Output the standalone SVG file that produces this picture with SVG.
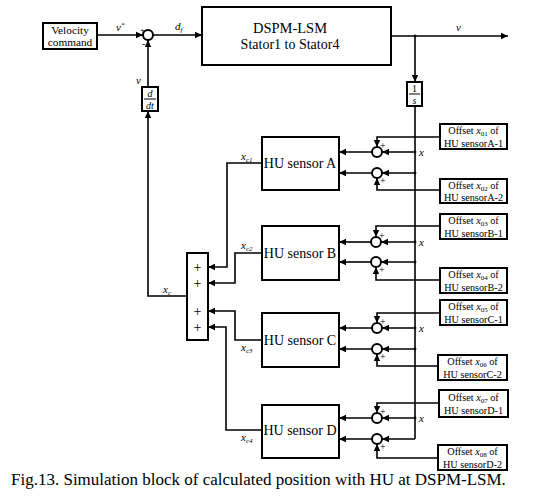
<svg xmlns="http://www.w3.org/2000/svg" width="548" height="499" viewBox="0 0 548 499">
<style>
.b{fill:#fff;stroke:#000;stroke-width:2}
.l{fill:none;stroke:#000;stroke-width:1.6}
.la{fill:none;stroke:#000;stroke-width:1.6;marker-end:url(#ah)}
.t{font-family:"Liberation Serif","Times New Roman",serif;fill:#000}
.i{font-style:italic}
.s{font-size:7px}
.ps{font-size:10px}
.o{font-size:10.2px}
</style>
<defs>
<marker id="ah" markerUnits="userSpaceOnUse" markerWidth="8" markerHeight="8" refX="7" refY="4" orient="auto">
<path d="M0,0.8 L7,4 L0,7.2 Z" fill="#000"/>
</marker>
</defs>
<rect width="548" height="499" fill="#fff"/>

<g id="connectors">
<line class="la" x1="97" y1="35" x2="143" y2="35"/>
<line class="la" x1="153" y1="35" x2="202" y2="35"/>
<line class="la" x1="391" y1="36" x2="508" y2="36"/>
<line class="la" x1="415" y1="36" x2="415" y2="82"/>
<line class="l" x1="415" y1="106" x2="415" y2="439"/>
<line class="la" x1="148" y1="87" x2="148" y2="40"/>
<polyline class="la" points="187,296 148,296 148,111"/>
<circle cx="415" cy="36" r="1.5"/>
<polyline class="la" points="262,163 227,163 227,267 208,267"/>
<polyline class="la" points="262,253 235,253 235,283 208,283"/>
<polyline class="la" points="262,340 235,340 235,311 208,311"/>
<polyline class="la" points="262,430 226,430 226,327 208,327"/>
<polyline class="la" points="440,137 377,137 377,147"/>
<line class="la" x1="415" y1="152" x2="382" y2="152"/>
<line class="la" x1="372" y1="152" x2="339" y2="152"/>
<line class="la" x1="415" y1="173" x2="382" y2="173"/>
<line class="la" x1="372" y1="173" x2="339" y2="173"/>
<polyline class="la" points="440,190 377,190 377,178"/>
<polyline class="la" points="440,226 376,226 376,237"/>
<line class="la" x1="415" y1="242" x2="381" y2="242"/>
<line class="la" x1="371" y1="242" x2="339" y2="242"/>
<line class="la" x1="415" y1="262" x2="381" y2="262"/>
<line class="la" x1="371" y1="262" x2="339" y2="262"/>
<polyline class="la" points="440,280 376,280 376,267"/>
<polyline class="la" points="440,313 377,313 377,323"/>
<line class="la" x1="415" y1="328" x2="382" y2="328"/>
<line class="la" x1="372" y1="328" x2="339" y2="328"/>
<line class="la" x1="415" y1="349" x2="382" y2="349"/>
<line class="la" x1="372" y1="349" x2="339" y2="349"/>
<polyline class="la" points="438,366 377,366 377,354"/>
<polyline class="la" points="439,403 377,403 377,413"/>
<line class="la" x1="415" y1="418" x2="382" y2="418"/>
<line class="la" x1="372" y1="418" x2="339" y2="418"/>
<line class="la" x1="415" y1="439" x2="382" y2="439"/>
<line class="la" x1="372" y1="439" x2="339" y2="439"/>
<polyline class="la" points="438,458 377,458 377,444"/>
<g fill="#000">
<circle cx="415" cy="152" r="1.4"/><circle cx="415" cy="173" r="1.4"/>
<circle cx="415" cy="242" r="1.4"/><circle cx="415" cy="262" r="1.4"/>
<circle cx="415" cy="328" r="1.4"/><circle cx="415" cy="349" r="1.4"/>
<circle cx="415" cy="418" r="1.4"/>
</g>
</g>

<g id="velocity-command">
<rect class="b" x="43" y="23" width="54" height="26"/>
<text class="t" x="70" y="33.5" font-size="11.3" text-anchor="middle">Velocity</text>
<text class="t" x="70" y="46" font-size="11.3" text-anchor="middle">command</text>
</g>

<g id="sum-top">
<circle class="b" cx="148" cy="35" r="5"/>
<text class="t" x="140" y="33" font-size="9">+</text>
<text class="t" x="142" y="47" font-size="10">-</text>
</g>

<g id="dspm">
<rect class="b" x="202" y="7" width="189" height="58"/>
<text class="t" x="290" y="33" font-size="14.5" text-anchor="middle">DSPM-LSM</text>
<text class="t" x="290" y="49" font-size="14" text-anchor="middle">Stator1 to Stator4</text>
</g>

<g id="integrator">
<rect class="b" x="407" y="82" width="15" height="24"/>
<line x1="409" y1="94" x2="420" y2="94" stroke="#000" stroke-width="1"/>
<text class="t" x="414.5" y="92" font-size="10" text-anchor="middle">1</text>
<text class="t i" x="414.5" y="104" font-size="10" text-anchor="middle">s</text>
</g>

<g id="derivative">
<rect class="b" x="142" y="87" width="16" height="24"/>
<line x1="144" y1="99" x2="156" y2="99" stroke="#000" stroke-width="1"/>
<text class="t i" x="150" y="97" font-size="10" text-anchor="middle">d</text>
<text class="t i" x="150" y="109" font-size="10" text-anchor="middle">dt</text>
</g>

<g id="labels" class="t">
<text class="i" x="116" y="31" font-size="11">v<tspan class="s" dy="-4">*</tspan></text>
<text class="i" x="175" y="30" font-size="11">d<tspan class="s" dy="2">f</tspan></text>
<text class="i" x="456" y="31" font-size="11">v</text>
<text class="i" x="136" y="84" font-size="11">v</text>
<text class="i" x="163" y="293" font-size="11">x<tspan class="s" dy="2">c</tspan></text>
<text class="i" x="241" y="160" font-size="11">x<tspan class="s" dy="2">c1</tspan></text>
<text class="i" x="241" y="249" font-size="11">x<tspan class="s" dy="2">c2</tspan></text>
<text class="i" x="241" y="351" font-size="11">x<tspan class="s" dy="2">c3</tspan></text>
<text class="i" x="241" y="441" font-size="11">x<tspan class="s" dy="2">c4</tspan></text>
<text class="i" x="419" y="156" font-size="11">x</text>
<text class="i" x="419" y="246" font-size="11">x</text>
<text class="i" x="419" y="332" font-size="11">x</text>
<text class="i" x="419" y="422" font-size="11">x</text>
</g>

<g id="sum-block">
<rect class="b" x="187" y="253" width="21" height="87"/>
<g class="t" font-size="14" text-anchor="middle">
<text x="197.5" y="271.5">+</text>
<text x="197.5" y="287.5">+</text>
<text x="197.5" y="315.5">+</text>
<text x="197.5" y="331.5">+</text>
</g>
</g>

<g id="sensor-a"><rect class="b" x="262" y="137" width="77" height="53"/><text class="t" x="300" y="168" font-size="14" text-anchor="middle">HU sensor A</text></g>
<g id="sensor-b"><rect class="b" x="262" y="226" width="77" height="54"/><text class="t" x="300" y="258" font-size="14" text-anchor="middle">HU sensor B</text></g>
<g id="sensor-c"><rect class="b" x="262" y="313" width="77" height="54"/><text class="t" x="300" y="345" font-size="14" text-anchor="middle">HU sensor C</text></g>
<g id="sensor-d"><rect class="b" x="262" y="405" width="77" height="53"/><text class="t" x="300" y="435" font-size="14" text-anchor="middle">HU sensor D</text></g>

<g id="sums-a">
<circle class="b" cx="377" cy="152" r="5"/><circle class="b" cx="377" cy="173" r="5"/>
<text class="t ps" x="380" y="149">+</text><text class="t ps" x="380" y="184">+</text>
</g>
<g id="sums-b">
<circle class="b" cx="376" cy="242" r="5"/><circle class="b" cx="376" cy="262" r="5"/>
<text class="t ps" x="379" y="239">+</text><text class="t ps" x="379" y="273">+</text>
</g>
<g id="sums-c">
<circle class="b" cx="377" cy="328" r="5"/><circle class="b" cx="377" cy="349" r="5"/>
<text class="t ps" x="380" y="325">+</text><text class="t ps" x="380" y="360">+</text>
</g>
<g id="sums-d">
<circle class="b" cx="377" cy="418" r="5"/><circle class="b" cx="377" cy="439" r="5"/>
<text class="t ps" x="380" y="415">+</text><text class="t ps" x="380" y="450">+</text>
</g>

<g id="offset-a1"><rect class="b" x="440" y="124" width="67" height="25"/><text class="t o" x="473.5" y="134" text-anchor="middle">Offset <tspan class="i">x</tspan><tspan class="s" dy="1.5">01</tspan><tspan dy="-1.5"> of</tspan></text><text class="t o" x="473.5" y="146.5" text-anchor="middle">HU sensorA-1</text></g>
<g id="offset-a2"><rect class="b" x="440" y="179" width="67" height="24"/><text class="t o" x="473.5" y="189" text-anchor="middle">Offset <tspan class="i">x</tspan><tspan class="s" dy="1.5">02</tspan><tspan dy="-1.5"> of</tspan></text><text class="t o" x="473.5" y="201" text-anchor="middle">HU sensorA-2</text></g>
<g id="offset-b1"><rect class="b" x="440" y="214" width="67" height="25"/><text class="t o" x="473.5" y="224" text-anchor="middle">Offset <tspan class="i">x</tspan><tspan class="s" dy="1.5">03</tspan><tspan dy="-1.5"> of</tspan></text><text class="t o" x="473.5" y="236.5" text-anchor="middle">HU sensorB-1</text></g>
<g id="offset-b2"><rect class="b" x="440" y="268" width="67" height="25"/><text class="t o" x="473.5" y="278" text-anchor="middle">Offset <tspan class="i">x</tspan><tspan class="s" dy="1.5">04</tspan><tspan dy="-1.5"> of</tspan></text><text class="t o" x="473.5" y="290.5" text-anchor="middle">HU sensorB-2</text></g>
<g id="offset-c1"><rect class="b" x="440" y="300" width="67" height="25"/><text class="t o" x="473.5" y="310" text-anchor="middle">Offset <tspan class="i">x</tspan><tspan class="s" dy="1.5">05</tspan><tspan dy="-1.5"> of</tspan></text><text class="t o" x="473.5" y="322.5" text-anchor="middle">HU sensorC-1</text></g>
<g id="offset-c2"><rect class="b" x="438" y="355" width="69" height="25"/><text class="t o" x="472.5" y="365" text-anchor="middle">Offset <tspan class="i">x</tspan><tspan class="s" dy="1.5">06</tspan><tspan dy="-1.5"> of</tspan></text><text class="t o" x="472.5" y="377.5" text-anchor="middle">HU sensorC-2</text></g>
<g id="offset-d1"><rect class="b" x="439" y="390" width="69" height="27"/><text class="t o" x="473.5" y="401" text-anchor="middle">Offset <tspan class="i">x</tspan><tspan class="s" dy="1.5">07</tspan><tspan dy="-1.5"> of</tspan></text><text class="t o" x="473.5" y="413.5" text-anchor="middle">HU sensorD-1</text></g>
<g id="offset-d2"><rect class="b" x="438" y="445" width="69" height="25"/><text class="t o" x="472.5" y="455" text-anchor="middle">Offset <tspan class="i">x</tspan><tspan class="s" dy="1.5">08</tspan><tspan dy="-1.5"> of</tspan></text><text class="t o" x="472.5" y="467.5" text-anchor="middle">HU sensorD-2</text></g>

<text class="t" x="11" y="485" font-size="17">Fig.13. Simulation block of calculated position with HU at DSPM-LSM.</text>
</svg>
